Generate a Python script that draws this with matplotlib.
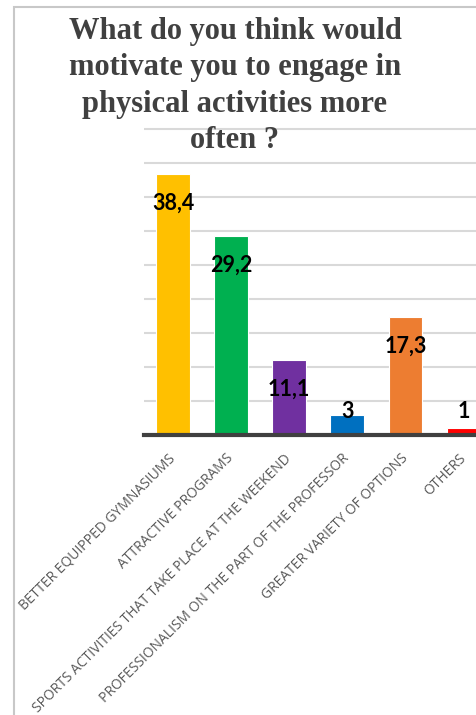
import numpy as np
import matplotlib.pyplot as plt
from matplotlib.patches import Rectangle

categories = ["BETTER EQUIPPED GYMNASIUMS", "ATTRACTIVE PROGRAMS",
              "SPORTS ACTIVITIES THAT TAKE PLACE AT THE WEEKEND",
              "PROFESSIONALISM ON THE PART OF THE PROFESSOR",
              "GREATER VARIETY OF OPTIONS", "OTHERS"]
values = [38.4, 29.2, 11.1, 3, 17.3, 1]
labels = ["38,4", "29,2", "11,1", "3", "17,3", "1"]
colors = ["#FFC000", "#00B050", "#7030A0", "#0070C0", "#ED7D31", "#FF0000"]

W, H = 476, 715
fig = plt.figure(figsize=(W / 100, H / 100), dpi=100)

# chart frame (runs off the right / bottom of the picture)
fig.patches.append(Rectangle((14 / W, -0.1), 1.2, 1 - 7 / H + 0.1, transform=fig.transFigure,
                             fill=False, edgecolor="#c8c8c8", linewidth=1.5))

ax = fig.add_axes([144 / W, 1 - 435 / H, 348.5 / W, 308 / H])
x = np.arange(len(values))
ax.bar(x, values, width=0.58, color=colors, edgecolor="white", linewidth=0.8, zorder=3)
ax.set_xlim(-0.5, 5.5)
ax.set_ylim(0, 45.3)
ax.set_yticks(np.arange(5, 50, 5))
ax.yaxis.grid(True, color="#d9d9d9", linewidth=1.5, zorder=0)
ax.tick_params(axis="y", left=False, labelleft=False)
ax.tick_params(axis="x", bottom=False, pad=12)
for s in ["top", "right", "left"]:
    ax.spines[s].set_visible(False)
ax.spines["bottom"].set_color("#404040")
ax.spines["bottom"].set_linewidth(3)
ax.spines["bottom"].set_zorder(4)

ax.set_xticks(x)
ax.set_xticklabels(categories, rotation=45, ha="right", va="center", rotation_mode="anchor",
                   fontsize=10, color="#595959", family="Open Sans")

for xi, v, lab in zip(x, values, labels):
    y = v - 4.3 if v > 5 else 3.5
    ax.text(xi, y, lab, ha="center", va="center", fontsize=15.5, fontweight="bold",
            family="Lato", color="black", zorder=5)

fig.text(235 / W, 1 - 17 / H,
         "What do you think would\nmotivate you to engage in\nphysical activities more\noften ?",
         ha="center", va="top", fontsize=22, fontweight="bold", family="Liberation Serif",
         color="#404040", linespacing=1.34)

fig.savefig("out.png", dpi=100)
